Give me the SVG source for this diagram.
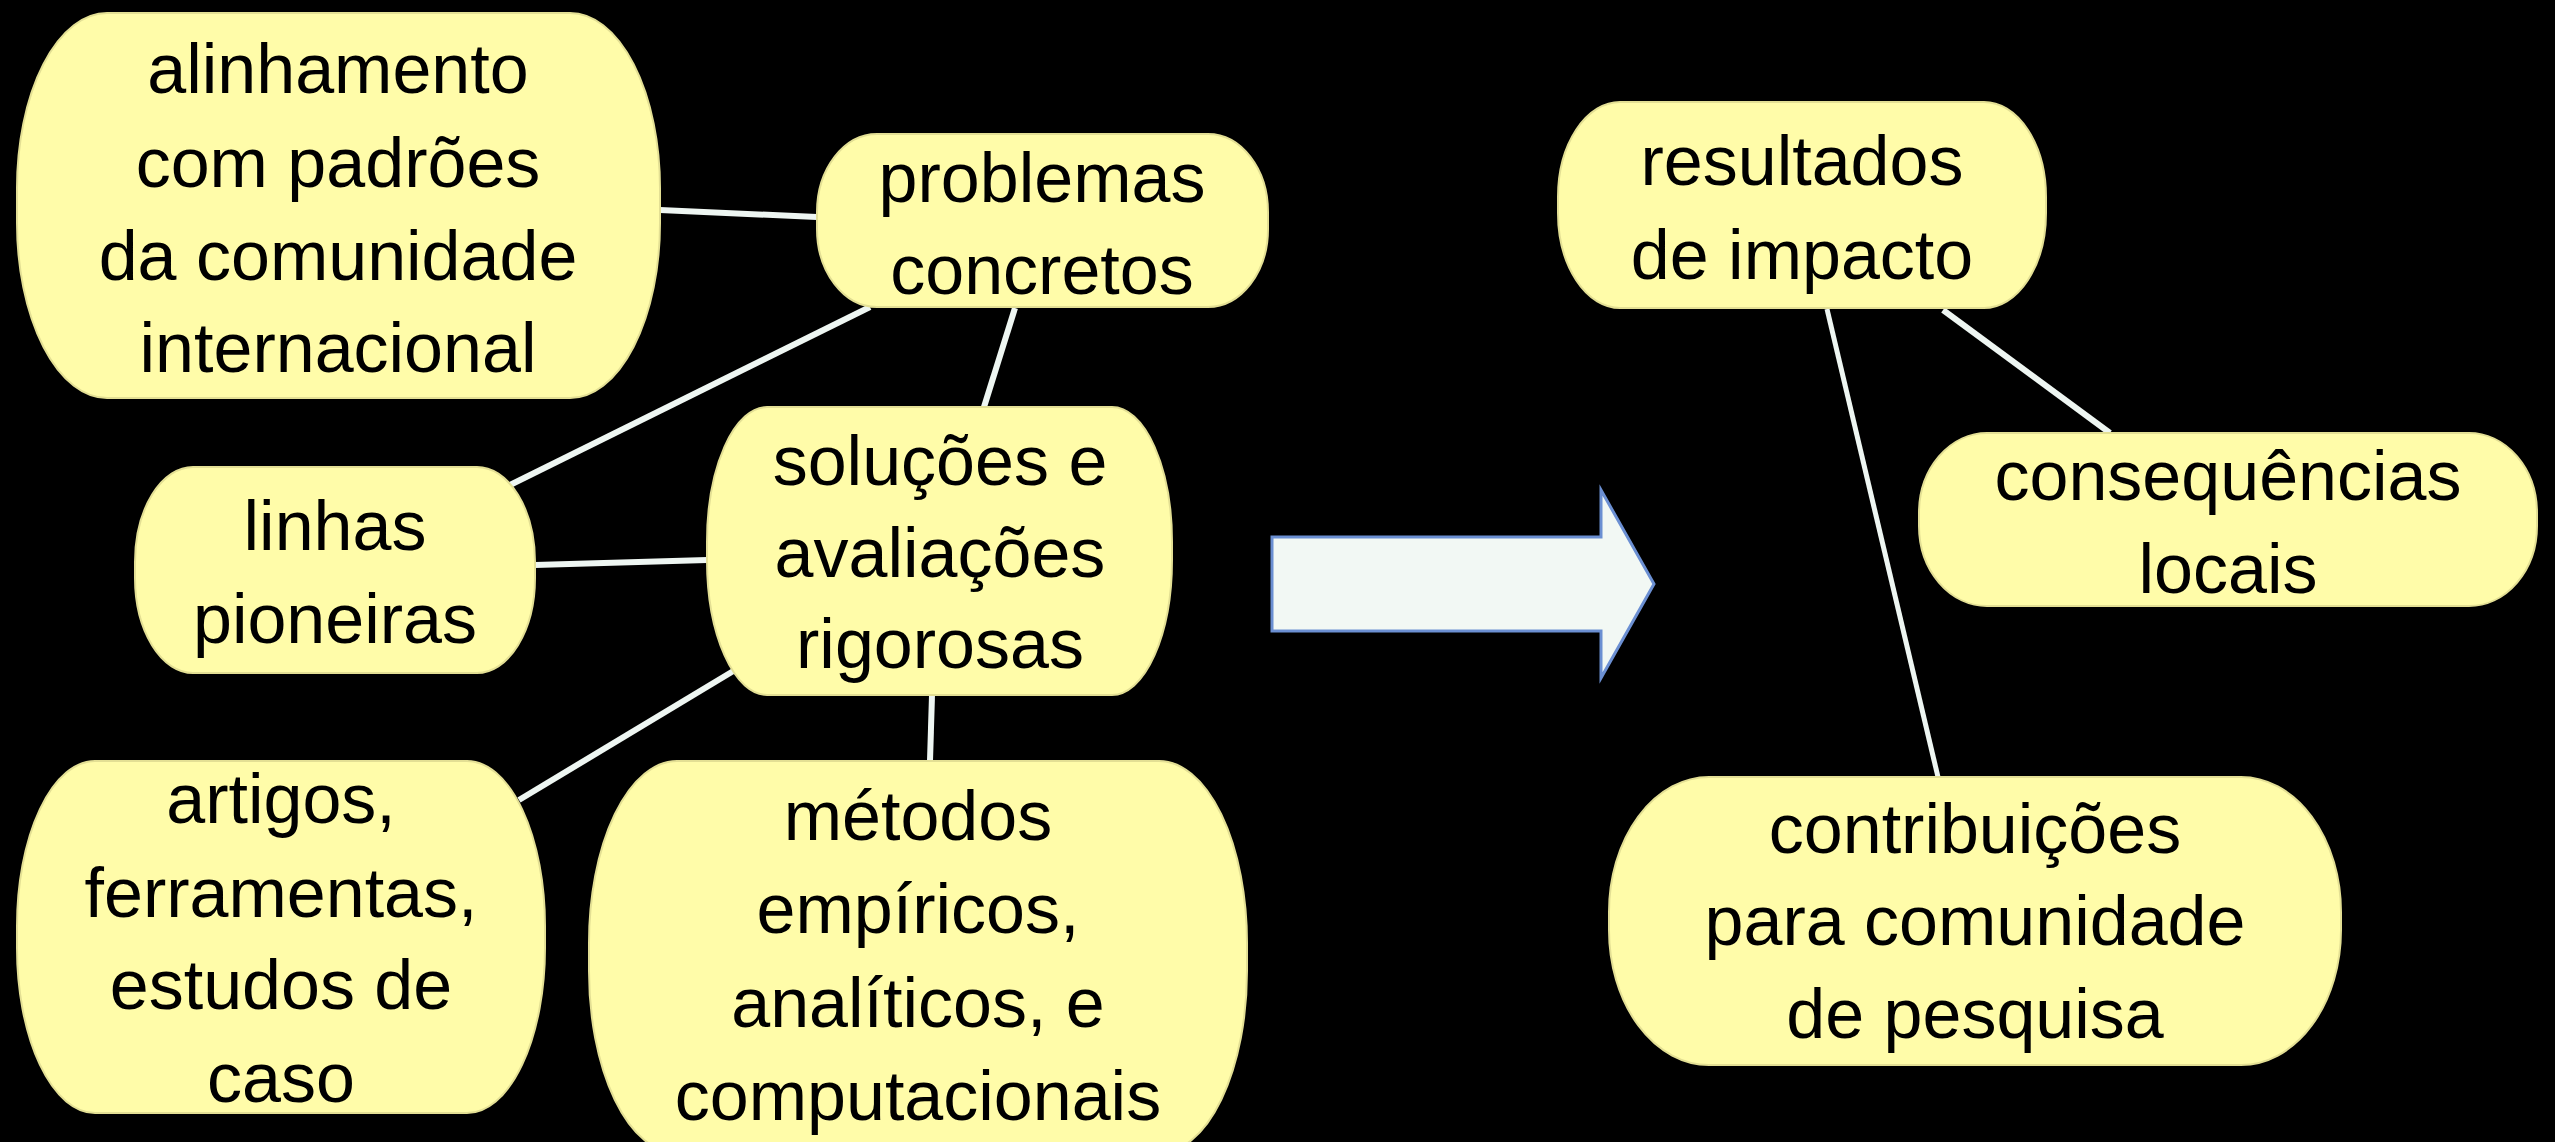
<svg xmlns="http://www.w3.org/2000/svg" width="2555" height="1142" viewBox="0 0 2555 1142">
<style>
.node{fill:#fffca9;stroke:#e3df94;stroke-width:2}
.lbl{font-family:"Liberation Sans",Arial,sans-serif;font-size:70px;fill:#000;text-anchor:middle}
.conn{stroke:#eef6f2;stroke-width:6;fill:none;stroke-linecap:butt}
</style>
<rect width="2555" height="1142" fill="#000"/>
<g id="connectors">
<line class="conn" x1="660" y1="210" x2="817" y2="217"/>
<line class="conn" x1="510" y1="485" x2="870" y2="307"/>
<line class="conn" x1="1015" y1="308" x2="984" y2="407"/>
<line class="conn" x1="535" y1="565" x2="707" y2="560"/>
<line class="conn" x1="735" y1="670" x2="519" y2="800"/>
<line class="conn" x1="932" y1="695" x2="930" y2="761"/>
<line class="conn" x1="1943" y1="310" x2="2110" y2="433"/>
<line class="conn" x1="1827" y1="309" x2="1938" y2="777" style="stroke-width:5"/>
</g>
<g id="arrow">
<polygon points="1272,537 1601,537 1601,490 1654,584 1601,678 1601,631 1272,631" fill="#f2f8f4" stroke="#6b8fd2" stroke-width="3" stroke-linejoin="miter"/>
</g>
<g id="n-alinhamento">
<rect class="node" x="17" y="13" width="643" height="385" rx="90" ry="175"/>
<text class="lbl"><tspan x="338" y="93">alinhamento</tspan><tspan x="338" y="187">com padrões</tspan><tspan x="338" y="280">da comunidade</tspan><tspan x="338" y="372">internacional</tspan></text>
</g>
<g id="n-problemas">
<rect class="node" x="817" y="134" width="451" height="173" rx="60" ry="78"/>
<text class="lbl"><tspan x="1042" y="202">problemas</tspan><tspan x="1042" y="294">concretos</tspan></text>
</g>
<g id="n-linhas">
<rect class="node" x="135" y="467" width="400" height="206" rx="58" ry="95"/>
<text class="lbl"><tspan x="335" y="550">linhas</tspan><tspan x="335" y="643">pioneiras</tspan></text>
</g>
<g id="n-solucoes">
<rect class="node" x="707" y="407" width="465" height="288" rx="60" ry="135"/>
<text class="lbl"><tspan x="940" y="485">soluções e</tspan><tspan x="940" y="577">avaliações</tspan><tspan x="940" y="668">rigorosas</tspan></text>
</g>
<g id="n-artigos">
<rect class="node" x="17" y="761" width="528" height="352" rx="78" ry="165"/>
<text class="lbl"><tspan x="281" y="823">artigos,</tspan><tspan x="281" y="917">ferramentas,</tspan><tspan x="281" y="1009">estudos de</tspan><tspan x="281" y="1102">caso</tspan></text>
</g>
<g id="n-metodos">
<rect class="node" x="589" y="761" width="658" height="392" rx="88" ry="182"/>
<text class="lbl"><tspan x="918" y="840">métodos</tspan><tspan x="918" y="933">empíricos,</tspan><tspan x="918" y="1027">analíticos, e</tspan><tspan x="918" y="1120">computacionais</tspan></text>
</g>
<g id="n-resultados">
<rect class="node" x="1558" y="102" width="488" height="206" rx="62" ry="95"/>
<text class="lbl"><tspan x="1802" y="185">resultados</tspan><tspan x="1802" y="279">de impacto</tspan></text>
</g>
<g id="n-consequencias">
<rect class="node" x="1919" y="433" width="618" height="173" rx="68" ry="80"/>
<text class="lbl"><tspan x="2228" y="500">consequências</tspan><tspan x="2228" y="593">locais</tspan></text>
</g>
<g id="n-contribuicoes">
<rect class="node" x="1609" y="777" width="732" height="288" rx="100" ry="135"/>
<text class="lbl"><tspan x="1975" y="853">contribuições</tspan><tspan x="1975" y="945">para comunidade</tspan><tspan x="1975" y="1038">de pesquisa</tspan></text>
</g>
</svg>
